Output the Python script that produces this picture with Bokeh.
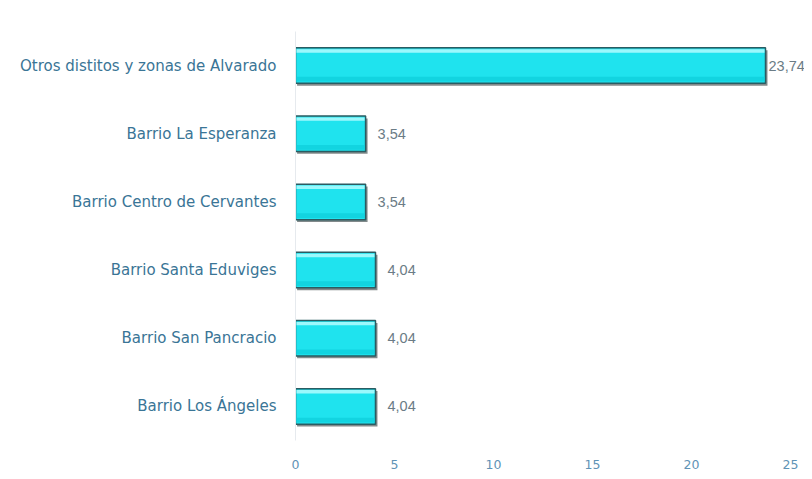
from bokeh.plotting import figure
from bokeh.models import ColumnDataSource, FactorRange, Range1d, FixedTicker, CDSView, BooleanFilter
from bokeh.transform import dodge
from bokeh.core.properties import value
from bokeh.embed import file_html
from bokeh.resources import INLINE

categories = [
    "Otros distitos y zonas de Alvarado",
    "Barrio La Esperanza",
    "Barrio Centro de Cervantes",
    "Barrio Santa Eduviges",
    "Barrio San Pancracio",
    "Barrio Los Ángeles",
]
values = [23.74, 3.54, 3.54, 4.04, 4.04, 4.04]
value_labels = ["23,74", "3,54", "3,54", "4,04", "4,04", "4,04"]
x_ticks = [0, 5, 10, 15, 20, 25]

src = ColumnDataSource(dict(
    cat=categories,
    val=values,
    lab=value_labels,
    shadow=[v + 0.1 for v in values],
))

FONT = "DejaVu Sans"
VFONT = "Liberation Sans"

p = figure(
    width=804, height=471,
    y_range=FactorRange(factors=list(reversed(categories)), range_padding=0),
    x_range=Range1d(0, 25.71),
    output_backend="svg", toolbar_location=None,
    min_border_left=295, min_border_right=0, min_border_top=31, min_border_bottom=29,
)
p.outline_line_color = None
p.xgrid.grid_line_color = None
p.ygrid.grid_line_color = None

# shadow
p.hbar(y=dodge("cat", -0.035, range=p.y_range), left=0.08, right="shadow", height=0.52,
       source=src, fill_color="#2e3c3e", fill_alpha=0.6, line_color=None)
# main bar
p.hbar(y="cat", left=0, right="val", height=0.52, source=src,
       fill_color="#1fe3ee", line_color="#2a5c62", line_width=1.5)
# top highlight
p.hbar(y=dodge("cat", 0.215, range=p.y_range), left=0.05, right=dodge("val", -0.05), height=0.05,
       source=src, fill_color="#a8f9fd", fill_alpha=0.9, line_color=None)
# lower darker band
p.hbar(y=dodge("cat", -0.2, range=p.y_range), left=0.05, right=dodge("val", -0.05), height=0.07,
       source=src, fill_color="#0fd0dc", fill_alpha=0.8, line_color=None)

long_bar = [v > 20 for v in values]
short_bar = [not b for b in long_bar]

p.text(x="val", y="cat", text="lab", source=src, x_offset=12,
       view=CDSView(filter=BooleanFilter(short_bar)),
       text_align="left", text_baseline="middle",
       text_font=value(VFONT), text_font_size="14.5px", text_color="#6b7c86")
p.text(x="val", y="cat", text="lab", source=src, x_offset=3,
       view=CDSView(filter=BooleanFilter(long_bar)),
       text_align="left", text_baseline="middle",
       text_font=value(VFONT), text_font_size="14.5px", text_color="#6b7c86")

p.xaxis.ticker = FixedTicker(ticks=x_ticks)
p.xaxis.axis_line_color = None
p.xaxis.major_tick_line_color = None
p.xaxis.minor_tick_line_color = None
p.xaxis.major_label_standoff = 13
p.xaxis.major_label_text_font = FONT
p.xaxis.major_label_text_font_size = "12.5px"
p.xaxis.major_label_text_color = "#5f93b6"

p.yaxis.axis_line_color = "#e6eaee"
p.yaxis.major_tick_line_color = None
p.yaxis.minor_tick_line_color = None
p.yaxis.major_label_standoff = 13
p.yaxis.major_label_text_font = FONT
p.yaxis.major_label_text_font_size = "15px"
p.yaxis.major_label_text_color = "#3a7596"

open("out.html", "w").write(file_html(p, INLINE))
